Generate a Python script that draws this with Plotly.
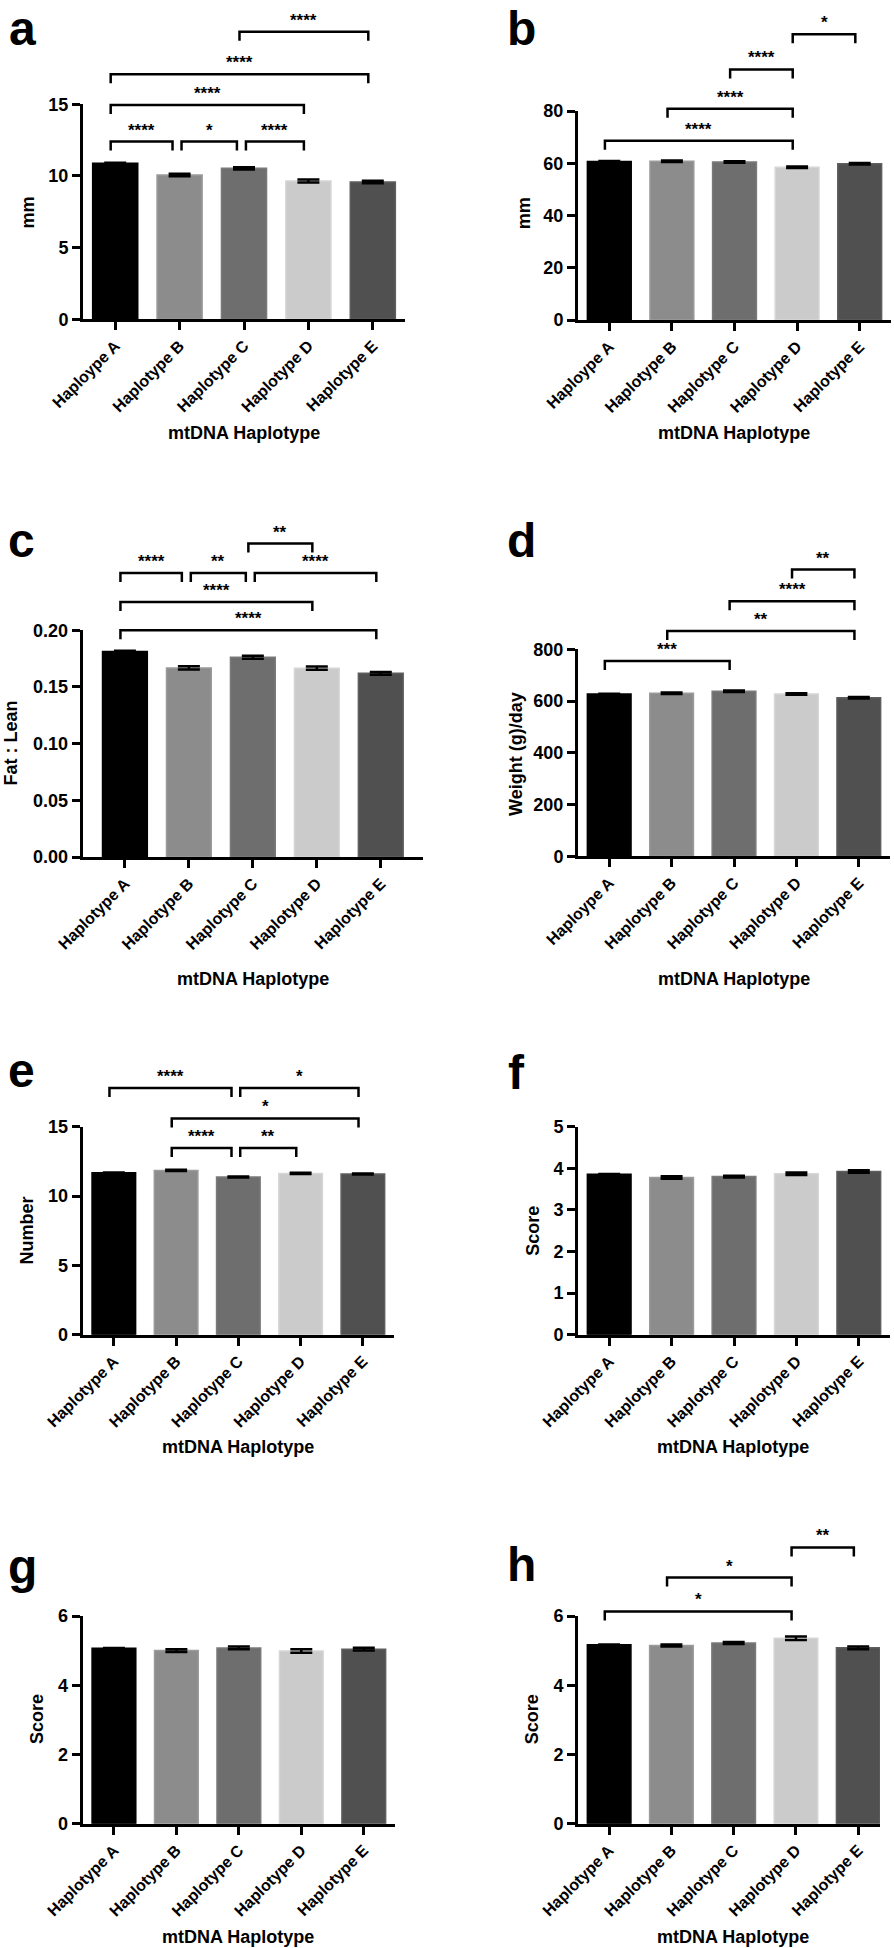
import plotly.graph_objects as go

W, H = 894, 1948
FONT = "Arial, Liberation Sans, sans-serif"

# ---------------- data ----------------
cats_typo = ["Haploype A", "Haplotype B", "Haplotype C", "Haplotype D", "Haplotype E"]
cats = ["Haplotype A", "Haplotype B", "Haplotype C", "Haplotype D", "Haplotype E"]
x_title = "mtDNA Haplotype"

a_vals = [10.88, 10.07, 10.53, 9.65, 9.58]
a_err = [0.04, 0.09, 0.08, 0.1, 0.08]
a_brackets = [(0, 1, 12.4, "****"), (1, 2, 12.4, "*"), (2, 3, 12.4, "****"),
              (0, 3, 14.95, "****"), (0, 4, 17.1, "****"), (2, 4, 20.07, "****")]

b_vals = [60.7, 60.8, 60.5, 58.5, 59.8]
b_err = [0.15, 0.3, 0.3, 0.3, 0.3]
b_brackets = [(0, 3, 68.6, "****"), (1, 3, 80.9, "****"), (2, 3, 95.9, "****"), (3, 4, 109.4, "*")]

c_vals = [0.1812, 0.1668, 0.1762, 0.1666, 0.1620]
c_err = [0.0007, 0.0014, 0.0014, 0.0014, 0.0012]
c_brackets = [(0, 4, 0.200, "****"), (0, 3, 0.225, "****"), (0, 1, 0.2506, "****"),
              (1, 2, 0.2506, "**"), (2, 4, 0.2506, "****"), (2, 3, 0.2765, "**")]

d_vals = [627, 630, 638, 627, 613]
d_err = [1, 3, 3, 3, 3]
d_brackets = [(0, 2, 755, "***"), (1, 4, 871, "**"), (2, 4, 986, "****"), (3, 4, 1108, "**")]

e_vals = [11.68, 11.85, 11.37, 11.63, 11.59]
e_err = [0.02, 0.05, 0.04, 0.05, 0.04]
e_brackets = [(1, 2, 13.46, "****"), (2, 3, 13.46, "**"), (1, 4, 15.6, "*"),
              (0, 2, 17.79, "****"), (2, 4, 17.79, "*")]

f_vals = [3.854, 3.78, 3.80, 3.87, 3.926]
f_err = [0.01, 0.03, 0.02, 0.03, 0.03]
f_brackets = []

g_vals = [5.067, 5.0, 5.077, 4.99, 5.04]
g_err = [0.01, 0.04, 0.04, 0.05, 0.04]
g_brackets = []

h_vals = [5.17, 5.15, 5.22, 5.36, 5.08]
h_err = [0.01, 0.03, 0.03, 0.05, 0.04]
h_brackets = [(0, 3, 6.13, "*"), (1, 3, 7.11, "*"), (3, 4, 7.98, "**")]

y_titles = ["mm", "mm", "Fat : Lean", "Weight (g)/day", "Number", "Score", "Score", "Score"]
letters = ["a", "b", "c", "d", "e", "f", "g", "h"]

bar_colors = ["#000000", "#8c8c8c", "#6e6e6e", "#cbcbcb", "#505050"]
bar_edges = ["#000000", "#9a9a9a", "#7a7a7a", "#d6d6d6", "#5e5e5e"]

# ---------------- layout geometry (pixels) ----------------
geom = [
    dict(xl=83, xr=405, xrange=(-0.5, 4.5), base=319.3, toppx=104.3, tmax=15, dt=5, fmt="d",
         ytx=27.6, yty=213, xtx=244, xty=433, lx=7, lb=40),
    dict(xl=578, xr=891, xrange=(-0.5, 4.5), base=320, toppx=111, tmax=80, dt=20, fmt="d",
         ytx=524.3, yty=213, xtx=734, xty=433, lx=505, lb=42),
    dict(xl=82.7, xr=423, xrange=(-0.66, 4.66), base=857, toppx=630.3, tmax=0.20, dt=0.05, fmt=".2f",
         ytx=10.5, yty=743, xtx=253, xty=979, lx=6, lb=557),
    dict(xl=578, xr=890, xrange=(-0.5, 4.5), base=856.3, toppx=649.3, tmax=800, dt=200, fmt="d",
         ytx=515.3, yty=753.7, xtx=734, xty=979, lx=505, lb=557),
    dict(xl=82.7, xr=394, xrange=(-0.5, 4.5), base=1334.7, toppx=1126.7, tmax=15, dt=5, fmt="d",
         ytx=26.7, yty=1230.7, xtx=238, xty=1447, lx=6, lb=1087),
    dict(xl=578, xr=890, xrange=(-0.5, 4.5), base=1334.7, toppx=1126.7, tmax=5, dt=1, fmt="d",
         ytx=533, yty=1230.7, xtx=733, xty=1447, lx=506, lb=1089),
    dict(xl=82.7, xr=395, xrange=(-0.5, 4.5), base=1823.7, toppx=1616, tmax=6, dt=2, fmt="d",
         ytx=37.7, yty=1719.3, xtx=238, xty=1937, lx=6, lb=1583),
    dict(xl=578, xr=880, xrange=(-0.5, 4.35), base=1823.7, toppx=1616, tmax=6, dt=2, fmt="d",
         ytx=532, yty=1719.3, xtx=733, xty=1937, lx=505, lb=1581),
]

panels = [
    (cats_typo, a_vals, a_err, a_brackets),
    (cats_typo, b_vals, b_err, b_brackets),
    (cats, c_vals, c_err, c_brackets),
    (cats_typo, d_vals, d_err, d_brackets),
    (cats, e_vals, e_err, e_brackets),
    (cats, f_vals, f_err, f_brackets),
    (cats, g_vals, g_err, g_brackets),
    (cats, h_vals, h_err, h_brackets),
]

fig = go.Figure()
layout = dict(
    width=W, height=H, margin=dict(l=0, r=0, t=0, b=0, pad=0, autoexpand=False),
    paper_bgcolor="white", plot_bgcolor="rgba(0,0,0,0)",
    showlegend=False, font=dict(family=FONT, color="black"),
    template="simple_white",
)
annotations = []

for k, ((labels, vals, errs, brackets), g) in enumerate(zip(panels, geom)):
    n = k + 1
    xa = f"xaxis{n}"
    ya = f"yaxis{n}"
    yb_n = n + 8
    yb = f"yaxis{yb_n}"
    xid = f"x{n}"
    yid = f"y{n}"
    ybid = f"y{yb_n}"

    ppu = (g["base"] - g["toppx"]) / g["tmax"]
    ydom0 = 1 - g["base"] / H
    ydom1 = 1 - g["toppx"] / H

    fig.add_trace(go.Bar(
        x=list(range(5)), y=vals, width=0.7,
        marker=dict(color=bar_colors, line=dict(color=bar_edges, width=1.5)),
        error_y=dict(type="data", array=errs, visible=True, color="black", thickness=2.5, width=11),
        xaxis=xid, yaxis=yid, hoverinfo="skip",
    ))

    nt = int(round(g["tmax"] / g["dt"]))
    tickvals = [i * g["dt"] for i in range(nt + 1)]
    if g["fmt"] == "d":
        ticktext = [str(int(round(v))) for v in tickvals]
    else:
        ticktext = [f"{v:.2f}" for v in tickvals]

    layout[xa] = dict(
        domain=[g["xl"] / W, g["xr"] / W], range=list(g["xrange"]), anchor=yid,
        tickvals=list(range(5)), ticktext=labels, tickangle=-45,
        showline=True, linewidth=3, linecolor="black", automargin=False,
        ticks="outside", ticklen=8, tickwidth=3, tickcolor="black",
        showgrid=False, zeroline=False,
        tickfont=dict(family=FONT, size=16, color="black", weight="bold"),
    )
    layout[ya] = dict(
        domain=[ydom0, ydom1], range=[0, g["tmax"]], anchor=xid,
        tickvals=tickvals, ticktext=ticktext, automargin=False,
        showline=True, linewidth=3, linecolor="black",
        ticks="outside", ticklen=8, tickwidth=3, tickcolor="black",
        showgrid=False, zeroline=False,
        tickfont=dict(family=FONT, size=18, color="black", weight="bold"),
    )

    if brackets:
        ytop = max(b[2] for b in brackets) + 28 / ppu
    else:
        ytop = g["tmax"] * 1.01
    top_px = g["base"] - ytop * ppu
    ydomb1 = min(1.0, 1 - top_px / H)
    ytop = (g["base"] - (1 - ydomb1) * H) / ppu
    layout[yb] = dict(
        domain=[ydom0, ydomb1], range=[0, ytop], anchor=xid, automargin=False,
        showline=False, showticklabels=False, ticks="", showgrid=False, zeroline=False,
    )

    leg = 9 / ppu
    for (i, j, yv, txt) in brackets:
        x0 = i - 0.07
        x1 = j - 0.07
        for (i2, j2, yv2, _) in brackets:
            if abs(yv2 - yv) < 1e-9 and j2 == i:
                x0 = i + 0.03
            if abs(yv2 - yv) < 1e-9 and i2 == j:
                x1 = j - 0.11
        fig.add_trace(go.Scatter(
            x=[x0, x0, x1, x1], y=[yv - leg, yv, yv, yv - leg],
            mode="lines", line=dict(color="black", width=2.5),
            xaxis=xid, yaxis=ybid, hoverinfo="skip",
        ))
        annotations.append(dict(
            x=(x0 + x1) / 2, y=yv, xref=xid, yref=ybid, text=txt, showarrow=False,
            xanchor="center", yanchor="bottom",
            font=dict(family=FONT, size=17, color="black", weight="bold"),
        ))

    annotations.append(dict(
        x=g["ytx"] / W, y=1 - g["yty"] / H, xref="paper", yref="paper", text=y_titles[k],
        showarrow=False, textangle=-90, xanchor="center", yanchor="middle",
        font=dict(family=FONT, size=18, color="black", weight="bold"),
    ))
    annotations.append(dict(
        x=g["xtx"] / W, y=1 - g["xty"] / H, xref="paper", yref="paper", text=x_title,
        showarrow=False, xanchor="center", yanchor="middle",
        font=dict(family=FONT, size=18, color="black", weight="bold"),
    ))
    fs = 48
    if k < 2:
        annotations.append(dict(
            x=g["lx"] / W, y=1.0, xref="paper", yref="paper",
            text=letters[k], showarrow=False, xanchor="left", yanchor="top",
            font=dict(family=FONT, size=fs, color="black", weight="bold"),
        ))
    else:
        annotations.append(dict(
            x=g["lx"] / W, y=1 - (g["lb"] - 0.3465 * fs) / H, xref="paper", yref="paper",
            text=letters[k], showarrow=False, xanchor="left", yanchor="middle",
            font=dict(family=FONT, size=fs, color="black", weight="bold"),
        ))

layout["annotations"] = annotations
fig.update_layout(**layout)
fig.write_html("out.html", config={"displayModeBar": False},
               post_script="document.body.style.margin='0px';")
